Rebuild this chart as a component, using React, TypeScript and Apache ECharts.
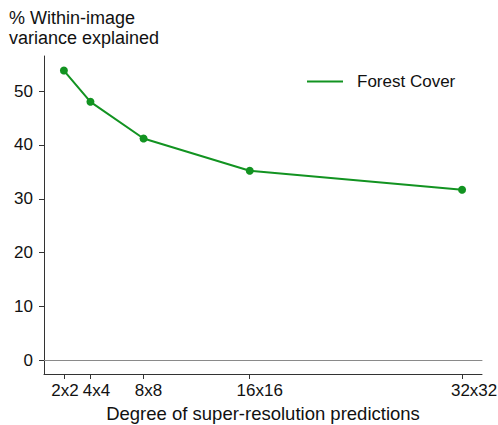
import React, { useEffect, useRef } from "react";
import * as echarts from "echarts";

// Super-resolution degree (pixels per side) and explained within-image variance (%)
const degrees = [2, 4, 8, 16, 32];
const forestCover = [53.8, 48.0, 41.2, 35.2, 31.7];
const yTicks = [0, 10, 20, 30, 40, 50];

const FONT = "'Liberation Sans', Arial, Helvetica, sans-serif";
const GREEN = "#129321";
const AXIS = "#333333";
const W = 498;
const H = 425;

// Small per-label nudges so neighbouring tick labels don't collide
const labelShift = [1, 6, 5, 10, 12];

export default function App() {
  const ref = useRef<HTMLDivElement>(null);

  useEffect(() => {
    if (!ref.current) return;
    const chart = echarts.init(ref.current, null, { renderer: "svg", width: W, height: H });
    const rich: Record<string, any> = {};
    labelShift.forEach((s, i) => {
      rich["s" + i] = {
        fontFamily: FONT,
        fontSize: 17,
        color: "#111",
        padding: [0, 0, 0, s * 2],
      };
    });
    chart.setOption({
      animation: false,
      textStyle: { fontFamily: FONT },
      title: {
        text: "% Within-image\nvariance explained",
        left: 9,
        top: 8,
        padding: 0,
        textStyle: {
          fontFamily: FONT,
          fontSize: 18,
          fontWeight: "normal",
          color: "#111",
          lineHeight: 20,
        },
      },
      legend: {
        left: 302,
        top: 68,
        itemWidth: 36,
        itemHeight: 2,
        icon: "rect",
        textStyle: { fontFamily: FONT, fontSize: 17, color: "#111", padding: [0, 0, 0, 9] },
        data: [{ name: "Forest Cover", icon: "rect" }],
      },
      grid: {
        left: 44,
        right: 16,
        top: 56,
        bottom: 51,
        containLabel: false,
        outerBoundsMode: "none",
      },
      xAxis: [
        {
          type: "value",
          min: 0.5,
          max: 33.5,
          name: "Degree of super-resolution predictions",
          nameLocation: "middle",
          nameGap: 30,
          nameTextStyle: { fontFamily: FONT, fontSize: 18.5, color: "#111" },
          axisLine: { onZero: false, lineStyle: { color: AXIS, width: 1 } },
          axisTick: {
            customValues: degrees,
            length: 5,
            lineStyle: { color: AXIS },
          },
          axisLabel: {
            customValues: degrees,
            hideOverlap: false,
            formatter: (v: number) => `{s${degrees.indexOf(v)}|${v}x${v}}`,
            rich,
            fontFamily: FONT,
            fontSize: 17,
            color: "#111",
            margin: 8,
          },
          splitLine: { show: false },
        },
        {
          // thin grey reference line at y = 0
          type: "value",
          min: 0.5,
          max: 33.5,
          position: "bottom",
          axisLine: { show: true, onZero: true, lineStyle: { color: "#8a8a8a", width: 1 } },
          axisTick: { show: false },
          axisLabel: { show: false },
          splitLine: { show: false },
        },
      ],
      yAxis: {
        type: "value",
        min: -2.5,
        max: 56.5,
        axisLine: { show: true, onZero: false, lineStyle: { color: AXIS, width: 1 } },
        axisTick: {
          show: true,
          customValues: yTicks,
          length: 5,
          lineStyle: { color: AXIS },
        },
        axisLabel: {
          customValues: yTicks,
          fontFamily: FONT,
          fontSize: 17,
          color: "#111",
          margin: 11,
        },
        splitLine: { show: false },
      },
      series: [
        {
          name: "Forest Cover",
          type: "line",
          xAxisIndex: 0,
          data: degrees.map((d, i) => [d, forestCover[i]]),
          color: GREEN,
          symbol: "circle",
          symbolSize: 8,
          lineStyle: { color: GREEN, width: 2 },
          itemStyle: { color: GREEN },
          z: 3,
        },
      ],
    });
    return () => chart.dispose();
  }, []);

  return <div ref={ref} style={{ width: W, height: H, position: "absolute", left: 0, top: 0 }} />;
}
